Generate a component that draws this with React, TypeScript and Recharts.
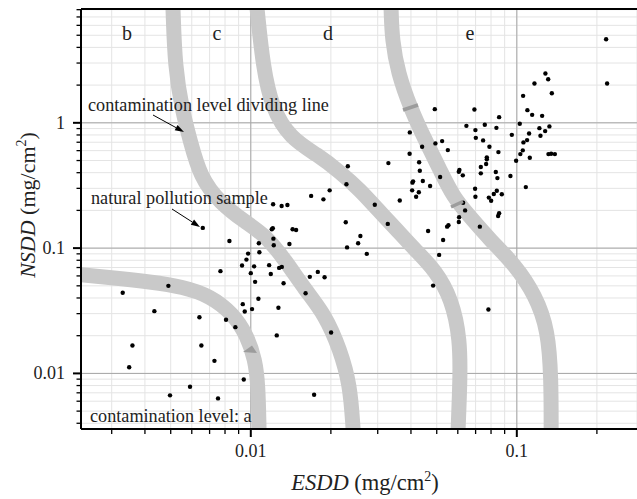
import React from "react";
import {
  ComposedChart,
  XAxis,
  YAxis,
  CartesianGrid,
  ReferenceLine,
  Line,
  Scatter,
} from "recharts";

const FONT = '"Liberation Serif", "Times New Roman", Times, serif';

const X_DOMAIN = [0.0023, 0.283];
const Y_DOMAIN = [0.0036, 8.1];
const X_TICKS = [
  0.003, 0.004, 0.005, 0.006, 0.007, 0.008, 0.009, 0.01,
  0.02, 0.03, 0.04, 0.05, 0.06, 0.07, 0.08, 0.09, 0.1, 0.2,
];
const Y_TICKS = [
  0.004, 0.005, 0.006, 0.007, 0.008, 0.009, 0.01,
  0.02, 0.03, 0.04, 0.05, 0.06, 0.07, 0.08, 0.09, 0.1,
  0.2, 0.3, 0.4, 0.5, 0.6, 0.7, 0.8, 0.9, 1,
  2, 3, 4, 5, 6, 7, 8,
];
const MAJOR_TICKS = [0.01, 0.1, 1];

// natural pollution samples (ESDD, NSDD in mg/cm2)
const SAMPLE_ESDD = [
  0.0033, 0.0049, 0.00434, 0.00359, 0.00349, 0.00641, 0.00652, 0.0073, 0.00807, 0.00875,
  0.00941, 0.00591, 0.00497, 0.00753, 0.00769, 0.01, 0.01038, 0.00933, 0.00949, 0.01011,
  0.01068, 0.0066, 0.00831, 0.01213, 0.01306, 0.01373, 0.01686, 0.01875, 0.01979, 0.01199,
  0.0121, 0.01436, 0.0148, 0.01072, 0.01216, 0.0122, 0.01397, 0.01077, 0.00977, 0.00963,
  0.00927, 0.01029, 0.01172, 0.01278, 0.01308, 0.01189, 0.01328, 0.01667, 0.01786, 0.01894,
  0.01607, 0.0127, 0.02004, 0.01252, 0.0173, 0.03954, 0.02316, 0.0329, 0.02288, 0.03631,
  0.02925, 0.02275, 0.03273, 0.02582, 0.02532, 0.02301, 0.02729, 0.05105, 0.04845, 0.0782,
  0.05284, 0.0464, 0.04917, 0.06928, 0.0858, 0.06464, 0.0758, 0.08381, 0.1026, 0.06988,
  0.1112, 0.03961, 0.09577, 0.07012, 0.07469, 0.1093, 0.1059, 0.04943, 0.05239, 0.04406,
  0.07889, 0.05504, 0.1053, 0.08527, 0.1031, 0.07713, 0.07713, 0.04293, 0.0994, 0.07667,
  0.07323, 0.04319, 0.06084, 0.06053, 0.06266, 0.07323, 0.08337, 0.08453, 0.09462, 0.05149,
  0.04051, 0.04074, 0.04433, 0.04721, 0.1081, 0.06969, 0.04041, 0.04282, 0.0841, 0.08194,
  0.08782, 0.04183, 0.06988, 0.07849, 0.08008, 0.06283, 0.06392, 0.0858, 0.08506, 0.06068,
  0.06053, 0.05533, 0.0547, 0.07261, 0.2166, 0.2185, 0.1281, 0.1312, 0.1165, 0.1354,
  0.1056, 0.1096, 0.1142, 0.1245, 0.1326, 0.1216, 0.1278, 0.1227, 0.1315, 0.1346,
  0.139, 0.1119,
];
const SAMPLE_NSDD = [
  0.044, 0.05, 0.0314, 0.0167, 0.0112, 0.0281, 0.0167, 0.0126, 0.0268, 0.0234,
  0.00895, 0.00783, 0.00668, 0.00632, 0.0655, 0.0631, 0.0538, 0.0357, 0.0312, 0.0326,
  0.0394, 0.145, 0.114, 0.224, 0.217, 0.221, 0.261, 0.245, 0.289, 0.1415,
  0.144, 0.1415, 0.1396, 0.1094, 0.119, 0.1054, 0.108, 0.0927, 0.0904, 0.081,
  0.0726, 0.0715, 0.0731, 0.0695, 0.0708, 0.0622, 0.0525, 0.059, 0.0646, 0.0586,
  0.0436, 0.0334, 0.0212, 0.0201, 0.00676, 0.566, 0.45, 0.477, 0.323, 0.24,
  0.222, 0.161, 0.156, 0.125, 0.1094, 0.1013, 0.0899, 0.0883, 0.0502, 0.0324,
  0.116, 0.137, 1.286, 1.279, 1.11, 0.946, 0.964, 0.912, 0.982, 0.875,
  0.823, 0.839, 0.802, 0.759, 0.724, 0.728, 0.698, 0.685, 0.715, 0.644,
  0.644, 0.606, 0.603, 0.584, 0.563, 0.53, 0.511, 0.484, 0.498, 0.469,
  0.444, 0.415, 0.42, 0.407, 0.381, 0.395, 0.405, 0.362, 0.376, 0.369,
  0.333, 0.341, 0.343, 0.313, 0.307, 0.298, 0.289, 0.279, 0.287, 0.27,
  0.269, 0.257, 0.257, 0.253, 0.239, 0.23, 0.2, 0.19, 0.1805, 0.1763,
  0.1617, 0.1522, 0.1484, 0.1484, 4.645, 2.061, 2.475, 2.23, 2.061, 1.724,
  1.641, 1.262, 1.158, 1.137, 0.936, 0.907, 0.859, 0.788, 0.563, 0.566,
  0.563, 0.526,
];

// contamination level dividing lines
const LINE_AB_X = [0.0023, 0.00304, 0.00418, 0.00557, 0.00703, 0.00858, 0.00968, 0.01038, 0.01065, 0.01074];
const LINE_AB_Y = [0.0612, 0.0579, 0.0538, 0.0491, 0.0416, 0.0299, 0.02, 0.01286, 0.00813, 0.0036];
const LINE_BC_X = [0.0051, 0.00519, 0.00552, 0.00591, 0.00645, 0.00767, 0.00952, 0.01132, 0.01346, 0.016, 0.01903, 0.02166, 0.02362, 0.02424];
const LINE_BC_Y = [8.1, 2.779, 1.262, 0.728, 0.369, 0.229, 0.1617, 0.1274, 0.0805, 0.0465, 0.0294, 0.01545, 0.00813, 0.0036];
const LINE_CD_X = [0.01056, 0.01112, 0.01202, 0.01405, 0.01791, 0.02166, 0.02576, 0.0301, 0.03487, 0.04147, 0.04931, 0.05712, 0.06121, 0.06121, 0.06016];
const LINE_CD_Y = [8.1, 2.779, 1.31, 0.755, 0.553, 0.405, 0.291, 0.2015, 0.1449, 0.0967, 0.067, 0.0387, 0.01855, 0.00891, 0.0036];
const LINE_DE_X = [0.03368, 0.03398, 0.03579, 0.03971, 0.04522, 0.05149, 0.05762, 0.06676, 0.07938, 0.09854, 0.1172, 0.1312, 0.1346, 0.1346];
const LINE_DE_Y = [8.1, 4.56, 2.489, 1.334, 0.728, 0.42, 0.256, 0.1772, 0.1162, 0.0735, 0.0424, 0.02229, 0.00891, 0.0036];

const zip = (xs: number[], ys: number[]) => xs.map((x, i) => ({ x, y: ys[i] }));

const samples = zip(SAMPLE_ESDD, SAMPLE_NSDD);
const dividers = [
  zip(LINE_AB_X, LINE_AB_Y),
  zip(LINE_BC_X, LINE_BC_Y),
  zip(LINE_CD_X, LINE_CD_Y),
  zip(LINE_DE_X, LINE_DE_Y),
];

const isMajor = (v: number) => MAJOR_TICKS.includes(v);

function BottomTick({ x, y, payload }: any) {
  const major = isMajor(payload.value);
  return (
    <g>
      <line x1={x} x2={x} y1={y} y2={y + (major ? 8 : 5)} stroke="#000" strokeWidth={major ? 2 : 1.3} />
      {major && (
        <text x={x} y={y + 28} textAnchor="middle" fontSize={18} fill="#222" fontFamily={FONT}>
          {String(payload.value)}
        </text>
      )}
    </g>
  );
}

function TopTick({ x, y, payload }: any) {
  const major = isMajor(payload.value);
  return <line x1={x} x2={x} y1={y} y2={y + (major ? 8 : 4)} stroke="#000" strokeWidth={major ? 2 : 1.3} />;
}

function LeftTick({ x, y, payload }: any) {
  const major = isMajor(payload.value);
  return (
    <g>
      <line x1={x} x2={x - (major ? 8 : 4.5)} y1={y} y2={y} stroke="#000" strokeWidth={major ? 2 : 1.3} />
      {major && (
        <text x={x - 16} y={y + 6} textAnchor="end" fontSize={18} fill="#222" fontFamily={FONT}>
          {String(payload.value)}
        </text>
      )}
    </g>
  );
}

const Dot = (p: any) => <circle cx={p.cx} cy={p.cy} r={2.2} fill="#000" />;

function Arrow({ x1, y1, x2, y2 }: { x1: number; y1: number; x2: number; y2: number }) {
  const a = Math.atan2(y2 - y1, x2 - x1);
  const len = 9;
  const w = 3;
  const bx = x2 - len * Math.cos(a);
  const by = y2 - len * Math.sin(a);
  const pts = [
    [x2, y2],
    [bx + w * Math.sin(a), by - w * Math.cos(a)],
    [bx - w * Math.sin(a), by + w * Math.cos(a)],
  ]
    .map((p) => p.join(","))
    .join(" ");
  return (
    <g>
      <line x1={x1} y1={y1} x2={bx} y2={by} stroke="#000" strokeWidth={1} />
      <polygon points={pts} fill="#000" />
    </g>
  );
}

export default function App() {
  return (
    <div style={{ position: "absolute", left: 0, top: 0, width: 637, height: 499, background: "#fff", overflow: "hidden" }}>
      <ComposedChart width={637} height={499} margin={{ top: 0, right: 0, bottom: 0, left: 0 }} style={{ fontFamily: FONT }}>
        <CartesianGrid stroke="#e4e4e4" strokeWidth={1} />
        {[0.01, 0.1].map((v) => (
          <ReferenceLine key={`vx${v}`} x={v} stroke="#a6a6a6" strokeWidth={1} />
        ))}
        {MAJOR_TICKS.map((v) => (
          <ReferenceLine key={`hy${v}`} y={v} stroke="#a6a6a6" strokeWidth={1} />
        ))}
        {dividers.map((d, i) => (
          <Line
            key={i}
            data={d}
            dataKey="y"
            type="basis"
            stroke="#c9c9c9"
            strokeWidth={15}
            dot={false}
            activeDot={false}
            isAnimationActive={false}
          />
        ))}
        <Scatter data={samples} shape={Dot} isAnimationActive={false} />
        <XAxis
          dataKey="x"
          type="number"
          scale="log"
          domain={X_DOMAIN}
          allowDataOverflow
          ticks={X_TICKS}
          interval={0}
          height={70}
          tickSize={0}
          tickMargin={0}
          tickLine={false}
          tick={<BottomTick />}
          axisLine={{ stroke: "#000", strokeWidth: 2 }}
        />
        <XAxis
          xAxisId="top"
          orientation="top"
          type="number"
          scale="log"
          domain={X_DOMAIN}
          allowDataOverflow
          ticks={X_TICKS}
          interval={0}
          height={9}
          tickSize={0}
          tickMargin={0}
          tickLine={false}
          tick={<TopTick />}
          axisLine={{ stroke: "#000", strokeWidth: 2 }}
        />
        <YAxis
          dataKey="y"
          type="number"
          scale="log"
          domain={Y_DOMAIN}
          allowDataOverflow
          ticks={Y_TICKS}
          interval={0}
          width={81}
          tickSize={0}
          tickMargin={0}
          tickLine={false}
          tick={<LeftTick />}
          axisLine={{ stroke: "#000", strokeWidth: 2 }}
        />
      </ComposedChart>
      <svg
        width={637}
        height={499}
        style={{ position: "absolute", left: 0, top: 0, pointerEvents: "none", fontFamily: FONT }}
      >
        <line x1={403} y1={110} x2={418} y2={105} stroke="#9c9c9c" strokeWidth={3.5} />
        <line x1={451} y1={207} x2={463} y2={201.5} stroke="#9c9c9c" strokeWidth={3.5} />
        <polygon points="243,352 252,345.5 257,353" fill="#9c9c9c" />
        <g fontSize={20} fill="#222" textAnchor="middle">
          <text x={127} y={40}>b</text>
          <text x={217} y={40}>c</text>
          <text x={328} y={40}>d</text>
          <text x={470} y={40}>e</text>
        </g>
        <g fontSize={18.2} fill="#222">
          <text x={88} y={111}>contamination level dividing line</text>
          <text x={91} y={204}>natural pollution sample</text>
          <text x={90} y={422}>contamination level: a</text>
        </g>
        <Arrow x1={153} y1={115} x2={184} y2={132} />
        <Arrow x1={172} y1={209} x2={200} y2={227} />
        <text x={365} y={490} fontSize={22.5} fill="#222" textAnchor="middle">
          <tspan fontStyle="italic">ESDD</tspan>
          <tspan> (mg/cm</tspan>
          <tspan fontSize={14} dy={-9}>2</tspan>
          <tspan dy={9}>)</tspan>
        </text>
        <text
          x={0}
          y={0}
          fontSize={22}
          fill="#222"
          textAnchor="middle"
          transform="translate(35,205) rotate(-90)"
        >
          <tspan fontStyle="italic">NSDD</tspan>
          <tspan> (mg/cm</tspan>
          <tspan fontSize={14} dy={-9}>2</tspan>
          <tspan dy={9}>)</tspan>
        </text>
      </svg>
    </div>
  );
}
